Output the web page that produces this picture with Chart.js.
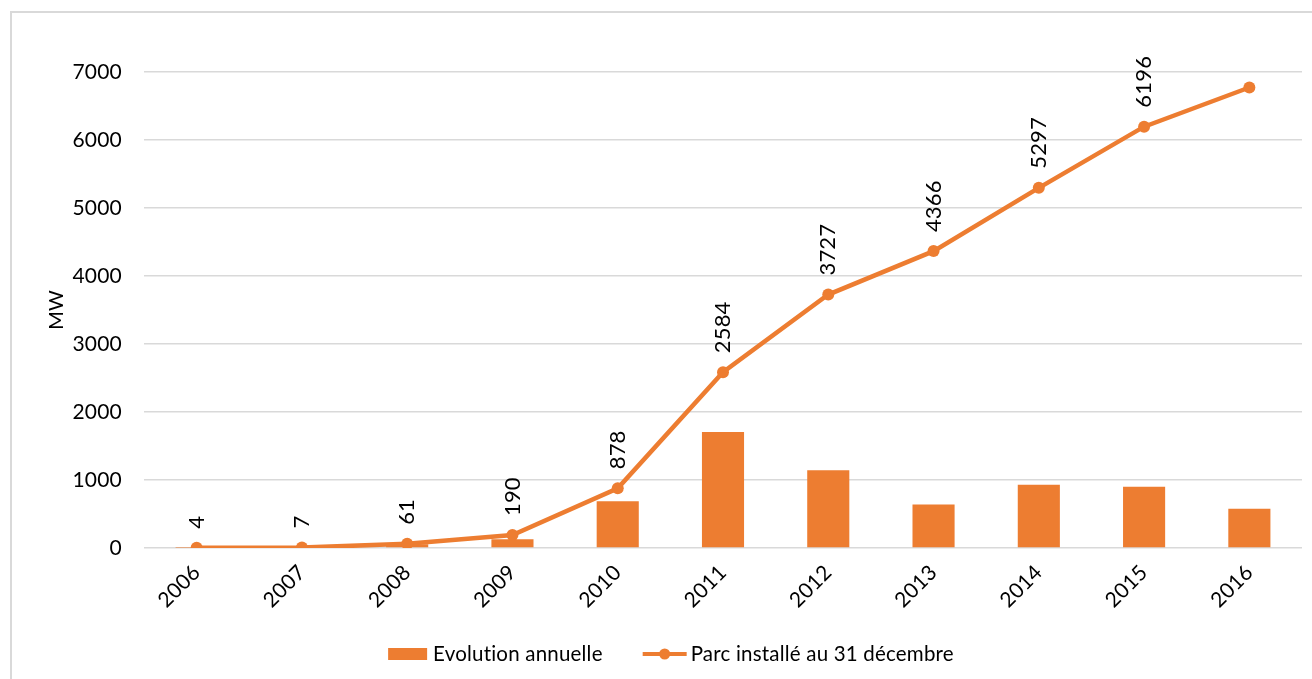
<!DOCTYPE html>
<html lang="fr">
<head>
  <meta charset="UTF-8">
  <title>Parc installé</title>
  <script src="https://cdn.jsdelivr.net/npm/chart.js"></script>
  <style>
    body { margin: 0; background: #fff; }
    #frame { position: absolute; left: 10px; top: 11px; width: 1320px; height: 700px; border: 2px solid #d9d9d9; }
    #wrap { position: absolute; left: 0; top: 0; width: 1312px; height: 679px; }
  </style>
</head>
<body>
  <div id="frame"></div>
  <div id="wrap"><canvas id="chart" width="1312" height="679"></canvas></div>

  <script>
    // data
    const years = ['2006', '2007', '2008', '2009', '2010', '2011', '2012', '2013', '2014', '2015', '2016'];
    const annual = [4, 3, 54, 129, 688, 1706, 1143, 639, 931, 899, 576];
    const installed = [4, 7, 61, 190, 878, 2584, 3727, 4366, 5297, 6196, 6772];
    const installedLabels = ['4', '7', '61', '190', '878', '2584', '3727', '4366', '5297', '6196', null];
    const yTicks = [0, 1000, 2000, 3000, 4000, 5000, 6000, 7000];

    const orange = '#ED7D31';
    const font = 'Lato, "Liberation Sans", sans-serif';

    // no "ti" ligature from Lato
    const noLigatures = {
      id: 'noLigatures',
      beforeDraw(chart) { chart.ctx.letterSpacing = '0.2px'; }
    };

    // vertical value labels above the line points
    const pointLabels = {
      id: 'pointLabels',
      afterDatasetsDraw(chart) {
        const meta = chart.getDatasetMeta(1);
        const ctx = chart.ctx;
        ctx.save();
        ctx.fillStyle = '#000';
        ctx.font = '22px ' + font;
        ctx.textAlign = 'left';
        ctx.textBaseline = 'middle';
        meta.data.forEach((pt, i) => {
          const txt = installedLabels[i];
          if (txt === null) return;
          ctx.save();
          ctx.translate(pt.x, pt.y - 19);
          ctx.rotate(-Math.PI / 2);
          ctx.fillText(txt, 0, 0);
          ctx.restore();
        });
        ctx.restore();
      }
    };

    // legend drawn by hand, Excel style (bar swatch + line with dot)
    const excelLegend = {
      id: 'excelLegend',
      afterDraw(chart) {
        const ctx = chart.ctx;
        const ds = chart.data.datasets;
        const cy = 654;
        ctx.save();
        ctx.font = '20.5px ' + font;
        ctx.textBaseline = 'middle';
        ctx.fillStyle = '#000';
        const w0 = ctx.measureText(ds[0].label).width;
        const w1 = ctx.measureText(ds[1].label).width;
        const total = 39 + 6 + w0 + 40 + 44 + 4 + w1;
        let x = (chart.width + 40 - 10) / 2 - total / 2;

        ctx.fillStyle = orange;
        ctx.fillRect(x, cy - 6, 39, 12);
        x += 45;
        ctx.fillStyle = '#000';
        ctx.fillText(ds[0].label, x, cy);
        x += w0 + 40;

        ctx.strokeStyle = orange;
        ctx.lineWidth = 4;
        ctx.beginPath(); ctx.moveTo(x, cy); ctx.lineTo(x + 44, cy); ctx.stroke();
        ctx.fillStyle = orange;
        ctx.beginPath(); ctx.arc(x + 22, cy, 5.5, 0, Math.PI * 2); ctx.fill();
        x += 48;
        ctx.fillStyle = '#000';
        ctx.fillText(ds[1].label, x, cy);
        ctx.restore();
      }
    };

    const ctx = document.getElementById('chart').getContext('2d');
    new Chart(ctx, {
      type: 'bar',
      data: {
        labels: years,
        datasets: [
          {
            type: 'bar',
            label: 'Evolution annuelle',
            data: annual,
            backgroundColor: orange,
            categoryPercentage: 1,
            barPercentage: 0.4,
            order: 1
          },
          {
            type: 'line',
            label: 'Parc installé au 31 décembre',
            data: installed,
            borderColor: orange,
            backgroundColor: orange,
            borderWidth: 4.5,
            pointRadius: 6,
            pointBackgroundColor: orange,
            pointBorderWidth: 0,
            tension: 0,
            order: 0
          }
        ]
      },
      options: {
        responsive: false,
        animation: false,
        layout: { padding: { left: 40, right: 10, top: 72, bottom: 44 } },
        plugins: {
          tooltip: { enabled: false },
          legend: { display: false }
        },
        scales: {
          x: {
            grid: { display: false },
            border: { display: false },
            ticks: {
              color: '#000',
              font: { family: font, size: 21 },
              minRotation: 45,
              maxRotation: 45,
              padding: 4
            },
            afterFit: s => { s.height = 87; }
          },
          y: {
            min: 0,
            max: 7000,
            afterBuildTicks: s => { s.ticks = yTicks.map(v => ({ value: v })); },
            grid: { color: '#d9d9d9', lineWidth: 1.5, drawTicks: false },
            border: { display: false },
            ticks: {
              color: '#000',
              font: { family: font, size: 21 },
              padding: 22,
              callback: v => String(v)
            },
            title: {
              display: true,
              text: 'MW',
              color: '#000',
              font: { family: font, size: 20 },
              padding: { top: 5, bottom: 0 }
            },
            afterFit: s => { s.width = 104; }
          }
        }
      },
      plugins: [noLigatures, pointLabels, excelLegend]
    });
  </script>
</body>
</html>
